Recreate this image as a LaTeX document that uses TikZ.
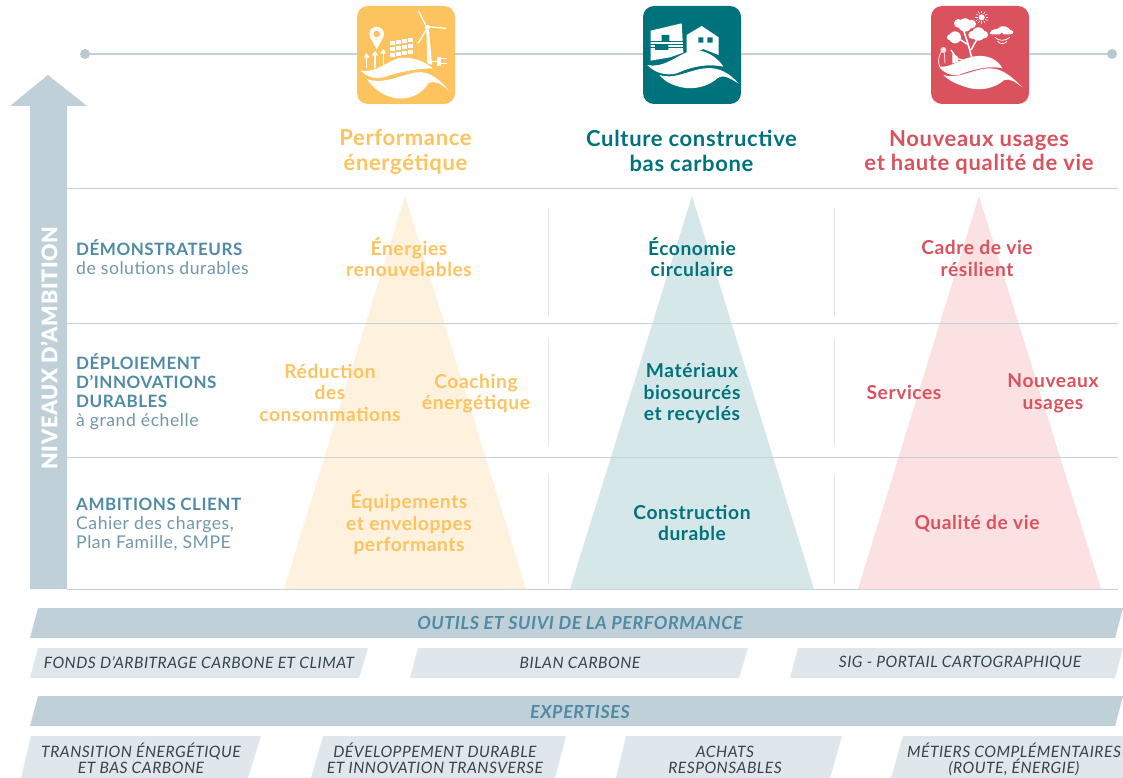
\documentclass[tikz,border=0pt]{standalone}
\usepackage{fontspec}
\setmainfont{Lato}[LetterSpace=3.0]
\newfontfamily\blackface{Lato Black}[LetterSpace=3.0]
\definecolor{barc}{HTML}{BFD0D9}
\definecolor{lightbar}{HTML}{DFE7EC}
\definecolor{rulec}{HTML}{C3D3DC}
\definecolor{sepc}{HTML}{E3E6E8}
\definecolor{orangec}{HTML}{FCC35F}
\definecolor{tealc}{HTML}{00727C}
\definecolor{redc}{HTML}{D9525E}
\definecolor{oranget}{HTML}{FEF2DE}
\definecolor{tealt}{HTML}{D6E7E9}
\definecolor{redt}{HTML}{FBE1E2}
\definecolor{labelc}{HTML}{4F8BA5}
\definecolor{subc}{HTML}{6F98AA}
\definecolor{darkc}{HTML}{36444C}
\newcommand{\fs}[2]{\fontsize{#1}{#2}\selectfont}
\newcommand{\labhead}[1]{\textcolor{labelc}{\fontsize{17}{19}\selectfont\bfseries #1}}
\tikzset{
  rowrule/.style={draw=rulec,line width=0.8pt},
  colsep/.style={draw=sepc,line width=0.8pt},
  iconbox/.style={rounded corners=11pt},
  head/.style={align=center,inner sep=0pt,font=\fs{22}{24.5}\bfseries},
  item/.style={align=center,inner sep=0pt,font=\fs{19.2}{21.5}\bfseries},
  lab/.style={align=left,anchor=north west,inner sep=0pt,text=subc,font=\fs{17.6}{19.3}},
  bartext/.style={inner sep=0pt,text=labelc,font=\fs{18}{20}\bfseries\itshape},
  smalltext/.style={inner sep=0pt,align=center,text=darkc,font=\fs{15.7}{16}\itshape},
  zoomscope/.style={xshift=#1pt,x=0.3333pt,y=-0.3333pt},
}
\begin{document}
\begin{tikzpicture}[x=1pt,y=-1pt]
\useasboundingbox[fill=white] (0,0) rectangle (1123,778);
\clip (0,0) rectangle (1123,778);
% top line
\draw[barc,line width=2.6pt] (85,54) -- (1112,54);
\fill[barc!90!gray] (85,54) circle (5) (1112,54) circle (5);
% triangles
\fill[oranget] (405,196) -- (526,589) -- (284,589) -- cycle;
\fill[tealt] (692,196) -- (814,589) -- (570,589) -- cycle;
\fill[redt] (979,196) -- (1101,589) -- (858,589) -- cycle;
% rules
\foreach \y in {188,323,457,589} \draw[rowrule] (67,\y) -- (1118,\y);
\foreach \x in {548,834} {
  \draw[colsep] (\x,208) -- (\x,316);
  \draw[colsep] (\x,338) -- (\x,446);
  \draw[colsep] (\x,474) -- (\x,584);
}
% arrow
\fill[barc] (48,75) -- (87,106) -- (67,106) -- (67,589) -- (30,589) -- (30,106) -- (10,106) -- cycle;
\node[rotate=90,inner sep=0pt,text=white,font=\fs{21.5}{24}\blackface] (niv) at (49,348) {NIVEAUX D’AMBITION};
% icon 1
\fill[orangec,iconbox] (357,6) rectangle (455,104);
\begin{scope}[zoomscope=340]
  \fill[white] (80,237) .. controls (130,255) and (180,225) .. (230,217) .. controls (270,212) and (300,240) .. (327,272) .. controls (300,250) and (285,240) .. (265,250) .. controls (240,290) and (200,298) .. (170,295) .. controls (130,290) and (100,265) .. (80,237) -- cycle;
  \fill[white] (62,212) .. controls (100,218) and (130,195) .. (160,180) .. controls (190,165) and (245,175) .. (278,205) .. controls (230,205) and (170,218) .. (130,232) .. controls (100,240) and (80,228) .. (62,212) -- cycle;
  \fill[white] (259,88) -- (267,88) -- (276,195) -- (262,190) -- cycle;
  \draw[white,line width=1.3pt] (262,85) -- (235,32);
  \draw[white,line width=1.3pt] (262,80) -- (318,85);
  \draw[white,line width=1.3pt] (260,88) -- (234,130);
  \fill[white] (262,82) circle (2.5pt);
  \foreach \i in {0,1,2,3} \foreach \j in {0,1,2}
    \fill[white] ({150+\i*18},{122-\i*3+\j*18}) rectangle ++(14,12);
  \fill[white] (110,102) circle (7.3pt);
  \fill[white] (91,113) -- (110,148) -- (129,113) -- cycle;
  \fill[orangec] (110,102) circle (3.3pt);
  \foreach \x/\y in {80/165,105/158,130/153} {
    \draw[white,line width=1.6pt] (\x,205) -- (\x,\y);
    \fill[white] (\x-9,\y+8) -- (\x,\y-6) -- (\x+9,\y+8) -- cycle;
  }
  \draw[white,line width=1.3pt] (272,185) -- (292,185);
  \fill[white] (290,170) -- (303,170) -- (303,198) -- (290,198) -- cycle;
  \draw[white,line width=1.3pt] (303,176) -- (320,176) (303,191) -- (320,191);
\end{scope}
% icon 2
\fill[tealc,iconbox] (643,6) rectangle (741,104);
\begin{scope}[zoomscope=630]
  \fill[white] (62,92) -- (155,70) -- (160,158) -- (120,172) -- (62,182) -- cycle;
  \fill[white] (170,105) -- (215,78) -- (266,112) -- (266,165) -- (220,147) -- (170,170) -- cycle;
  \fill[tealc] (205,112) rectangle (220,128) (232,112) rectangle (248,128);
  \fill[tealc] (95,105) rectangle (118,125) (75,135) rectangle (115,150);
  \draw[tealc,line width=0.9pt] (60,124) -- (158,124) (60,133) -- (158,133) (60,142) -- (158,142);
  \fill[white] (52,195) .. controls (100,205) and (135,170) .. (175,155) .. controls (205,142) and (255,160) .. (280,200) .. controls (230,190) and (185,200) .. (140,220) .. controls (110,228) and (75,220) .. (52,195) -- cycle;
  \fill[white] (88,225) .. controls (135,240) and (175,210) .. (225,205) .. controls (265,200) and (300,220) .. (325,250) .. controls (300,235) and (280,222) .. (262,235) .. controls (235,260) and (190,270) .. (155,262) .. controls (125,255) and (105,245) .. (88,225) -- cycle;
\end{scope}
% icon 3
\fill[redc,iconbox] (931,6) rectangle (1029,104);
\begin{scope}[zoomscope=915]
  \fill[white] (85,225) .. controls (130,240) and (175,205) .. (225,205) .. controls (265,205) and (295,235) .. (322,262) .. controls (300,245) and (285,235) .. (268,240) .. controls (240,265) and (195,275) .. (155,262) .. controls (125,252) and (105,245) .. (85,225) -- cycle;
  \fill[white] (72,200) .. controls (110,205) and (140,170) .. (190,168) .. controls (220,166) and (250,180) .. (262,205) .. controls (220,195) and (170,210) .. (130,225) .. controls (105,228) and (85,218) .. (72,200) -- cycle;
  \fill[white] (150,75) circle (6.7pt) (130,70) circle (4.3pt) (170,72) circle (4.3pt);
  \fill[white] (120,112) circle (6pt) (105,112) circle (3pt);
  \fill[white] (190,102) circle (6.7pt) (172,105) circle (4pt) (208,104) circle (3.7pt);
  \draw[white,line width=1.5pt] (172,180) -- (160,135) -- (145,88) (160,135) -- (130,115) (168,150) -- (190,110);
  \fill[white] (200,52) circle (3pt);
  \foreach \a in {0,30,...,330} \draw[white,line width=0.5pt] (200,52) ++({12*cos(\a)},{12*sin(\a)}) -- ++({8*cos(\a)},{8*sin(\a)});
  \fill[white] (225,98) .. controls (230,85) and (245,90) .. (250,85) .. controls (265,70) and (285,85) .. (285,90) .. controls (298,90) and (298,103) .. (285,103) -- (232,103) .. controls (225,103) and (222,100) .. (225,98) -- cycle;
  \fill[redc] (260,103) circle (1.7pt);
  \draw[white,line width=0.8pt] (240,112) .. controls (250,124) and (272,124) .. (284,112);
  \draw[white,line width=0.8pt] (248,124) .. controls (255,133) and (268,133) .. (276,124);
  \fill[white,opacity=.75] (85,150) circle (3pt);
  \draw[white,opacity=.75,line width=0.9pt] (88,145) .. controls (70,160) and (65,190) .. (78,205) (88,158) -- (90,190);
  \draw[white,line width=1.3pt] (108,150) -- (125,175) -- (148,182);
  \fill[white] (112,160) -- (128,170) -- (130,185) -- (112,190) -- cycle;
\end{scope}
% headings
\node[head,text=orangec] (h1) at (405.5,152) {Performance\\énergétique};
\node[head,text=tealc] (h2) at (691.5,151) {Culture constructive\\bas carbone};
\node[head,text=redc] (h3) at (979,152.5) {Nouveaux usages\\et haute qualité de vie};
% row labels
\node[lab] (l1) at (76,239) {\labhead{DÉMONSTRATEURS}\\de solutions durables};
\node[lab] (l2) at (76,353) {\labhead{DÉPLOIEMENT}\\\labhead{D’INNOVATIONS}\\\labhead{DURABLES}\\à grand échelle};
\node[lab] (l3) at (76,497.5) {\labhead{AMBITIONS CLIENT}\\Cahier des charges,\\Plan Famille, SMPE};
% items orange
\node[item,text=orangec] (o1) at (409,257) {Énergies\\renouvelables};
\node[item,text=orangec] (o2) at (330,392.5) {Réduction\\des\\consommations};
\node[item,text=orangec] (o3) at (476,393.5) {Coaching\\énergétique};
\node[item,text=orangec] (o4) at (409,523) {Équipements\\et enveloppes\\performants};
% items teal
\node[item,text=tealc] (t1) at (692,257) {Économie\\circulaire};
\node[item,text=tealc] (t2) at (692,393.5) {Matériaux\\biosourcés\\et recyclés};
\node[item,text=tealc] (t3) at (692,523) {Construction\\durable};
% items red
\node[item,text=redc] (r1) at (977,258.5) {Cadre de vie\\résilient};
\node[item,text=redc] (r2) at (904,392) {Services};
\node[item,text=redc] (r3) at (1053,393.5) {Nouveaux\\usages};
\node[item,text=redc] (r4) at (977,523.5) {Qualité de vie};
% bars
\fill[barc] (38,608) -- (1123,608) -- (1115,638) -- (30,638) -- cycle;
\node[bartext] (b1) at (580,623) {OUTILS ET SUIVI DE LA PERFORMANCE};
\fill[lightbar] (38,648) -- (368,648) -- (359,678) -- (30,678) -- cycle;
\node[smalltext] (s1) at (199,663) {FONDS D’ARBITRAGE CARBONE ET CLIMAT};
\fill[lightbar] (418,648) -- (748,648) -- (739,678) -- (410,678) -- cycle;
\node[smalltext] (s2) at (580,663) {BILAN CARBONE};
\fill[lightbar] (798,648) -- (1123,648) -- (1115,678) -- (790,678) -- cycle;
\node[smalltext] (s3) at (960,663) {SIG - PORTAIL CARTOGRAPHIQUE};
\fill[barc] (38,696) -- (1123,696) -- (1115,726) -- (30,726) -- cycle;
\node[bartext] (b2) at (580,712) {EXPERTISES};
\fill[lightbar] (31,736) -- (261,736) -- (248,778) -- (21,778) -- cycle;
\node[smalltext] (d1) at (141,758.5) {TRANSITION ÉNERGÉTIQUE\\ET BAS CARBONE};
\fill[lightbar] (323,736) -- (566,736) -- (555,778) -- (311,778) -- cycle;
\node[smalltext] (d2) at (435,758.5) {DÉVELOPPEMENT DURABLE\\ET INNOVATION TRANSVERSE};
\fill[lightbar] (626,736) -- (842,736) -- (830,778) -- (616,778) -- cycle;
\node[smalltext] (d3) at (725,760) {ACHATS\\RESPONSABLES};
\fill[lightbar] (903,736) -- (1123,736) -- (1123,778) -- (891,778) -- cycle;
\node[smalltext] (d4) at (1014,759) {MÉTIERS COMPLÉMENTAIRES\\(ROUTE, ÉNERGIE)};
\end{tikzpicture}
\end{document}
